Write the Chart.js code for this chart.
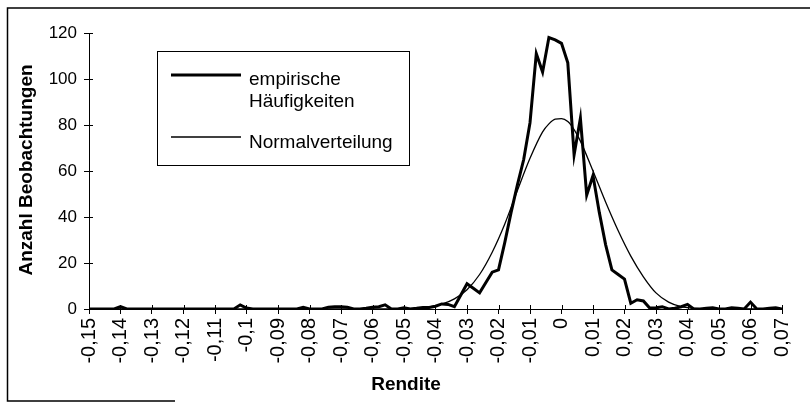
<!DOCTYPE html>
<html>
<head>
<meta charset="utf-8">
<script src="https://cdn.jsdelivr.net/npm/chart.js@4/dist/chart.umd.min.js"></script>
<style>
  html, body { margin: 0; padding: 0; background: #fff; }
  canvas { display: block; }
</style>
</head>
<body>
<canvas id="renditeChart" width="810" height="402"></canvas>
<script>
// Rendite-Klassen und empirische Häufigkeiten
const rendite = [
  -0.150, -0.142, -0.140, -0.138, -0.104, -0.102, -0.100, -0.098, -0.084, -0.082,
  -0.080, -0.076, -0.074, -0.072, -0.070, -0.068, -0.066, -0.064, -0.062, -0.060,
  -0.058, -0.056, -0.054, -0.052, -0.050, -0.048, -0.046, -0.044, -0.042, -0.040,
  -0.038, -0.036, -0.034, -0.032, -0.030, -0.028, -0.026, -0.024, -0.022, -0.020,
  -0.018, -0.016, -0.014, -0.012, -0.010, -0.008, -0.006, -0.004, -0.002, 0.000,
  0.002, 0.004, 0.006, 0.008, 0.010, 0.012, 0.014, 0.016, 0.018, 0.020,
  0.022, 0.024, 0.026, 0.028, 0.030, 0.032, 0.034, 0.036, 0.038, 0.040,
  0.042, 0.044, 0.046, 0.048, 0.050, 0.052, 0.054, 0.056, 0.058, 0.060,
  0.062, 0.064, 0.066, 0.068, 0.070
];
const empirisch = [
  0, 0, 1, 0, 0, 1.8, 0.4, 0, 0, 0.7,
  0, 0, 0.8, 1, 1, 0.8, 0, 0, 0.3, 0.8,
  1, 1.8, 0, 0, 0.5, 0, 0.3, 0.7, 0.7, 1.2,
  2.2, 2, 1, 6, 11, 9, 7, 11.5, 16, 17,
  29, 42, 54, 65, 81, 111, 103, 118, 117, 115.5,
  107, 67, 83, 49.5, 58, 42, 28, 17, 15, 13,
  2.5, 4, 3.5, 0.4, 0.5, 1, 0, 0.3, 1, 2,
  0, 0, 0.3, 0.5, 0, 0, 0.5, 0.3, 0, 3,
  0, 0, 0.3, 0.5, 0
];

// Normalverteilung
const normX = [
  -0.150, -0.054, -0.050, -0.046, -0.042, -0.038, -0.034, -0.030, -0.026, -0.022,
  -0.018, -0.014, -0.010, -0.006, -0.004, -0.002, 0.000, 0.002, 0.004, 0.006,
  0.010, 0.014, 0.018, 0.022, 0.026, 0.030, 0.034, 0.038, 0.042, 0.046,
  0.070
];
const normal = [
  0, 0.05, 0.13, 0.36, 0.9, 2.1, 4.4, 8.4, 15, 24.7,
  37, 51.5, 65.5, 77, 80.5, 82.6, 82.8, 81.5, 78, 73,
  60, 46.5, 34, 23, 14, 7, 3, 1, 0.3, 0.1,
  0
];

const yTicks = [0, 20, 40, 60, 80, 100, 120];
const seriesNames = [['empirische', 'Häufigkeiten'], ['Normalverteilung']];

const FONT = "'Liberation Sans', Arial, Helvetica, sans-serif";
Chart.defaults.font.family = FONT;
Chart.defaults.color = '#000';

const toPoints = (xs, ys) => xs.map((x, i) => ({ x: x, y: ys[i] }));

// Rahmen, Achsentitel, Legende und durchgehende Teilstriche
const decorPlugin = {
  id: 'decor',
  beforeDraw(chart) {
    const ctx = chart.ctx;
    ctx.save();
    ctx.fillStyle = '#fff';
    ctx.fillRect(0, 0, chart.width, chart.height);
    ctx.restore();
  },
  afterDraw(chart) {
    const ctx = chart.ctx;
    const xs = chart.scales.x, ys = chart.scales.y;
    ctx.save();
    ctx.strokeStyle = '#000';
    ctx.lineWidth = 1;
    ctx.beginPath();
    xs.ticks.forEach(t => {
      const px = Math.round(xs.getPixelForValue(t.value)) + 0.5;
      ctx.moveTo(px, ys.bottom - 4);
      ctx.lineTo(px, ys.bottom);
    });
    yTicks.forEach(v => {
      const py = Math.round(ys.getPixelForValue(v)) + 0.5;
      ctx.moveTo(xs.left, py);
      ctx.lineTo(xs.left + 4, py);
    });
    ctx.stroke();

    // Rahmen
    ctx.lineWidth = 1.5;
    ctx.beginPath();
    ctx.moveTo(810, 8);
    ctx.lineTo(7.5, 8);
    ctx.lineTo(7.5, 401);
    ctx.lineTo(175, 401);
    ctx.stroke();

    // Achsentitel
    ctx.fillStyle = '#000';
    ctx.font = 'bold 19px ' + FONT;
    ctx.textAlign = 'center';
    ctx.textBaseline = 'alphabetic';
    ctx.fillText('Rendite', 406, 390);
    ctx.translate(32, 170);
    ctx.rotate(-Math.PI / 2);
    ctx.fillText('Anzahl Beobachtungen', 0, 0);
    ctx.restore();

    // Legende
    ctx.save();
    ctx.strokeStyle = '#000';
    ctx.lineWidth = 1;
    ctx.strokeRect(157.5, 51.5, 252, 114);
    ctx.font = '19px ' + FONT;
    ctx.fillStyle = '#000';
    ctx.textAlign = 'left';
    const ds = chart.data.datasets;
    const rows = [{ y: 75, base: [85, 107] }, { y: 137, base: [148] }];
    rows.forEach((r, i) => {
      ctx.lineWidth = ds[i].borderWidth;
      ctx.beginPath();
      ctx.moveTo(171, r.y);
      ctx.lineTo(241, r.y);
      ctx.stroke();
      seriesNames[i].forEach((t, j) => ctx.fillText(t, 249, r.base[j]));
    });
    ctx.restore();
  }
};

new Chart(document.getElementById('renditeChart').getContext('2d'), {
  type: 'line',
  data: {
    datasets: [
      {
        label: seriesNames[0].join(' '),
        data: toPoints(rendite, empirisch),
        borderColor: '#000',
        borderWidth: 3,
        pointRadius: 0,
        tension: 0
      },
      {
        label: seriesNames[1][0],
        data: toPoints(normX, normal),
        borderColor: '#000',
        borderWidth: 1.3,
        pointRadius: 0,
        cubicInterpolationMode: 'monotone'
      }
    ]
  },
  options: {
    responsive: false,
    animation: false,
    layout: { padding: { left: 0, right: 27, top: 33, bottom: 0 } },
    plugins: { legend: { display: false }, title: { display: false }, tooltip: { enabled: false } },
    scales: {
      x: {
        type: 'linear',
        min: -0.15,
        max: 0.07,
        afterFit: s => { s.height = 93; },
        grid: { drawOnChartArea: false, color: '#000', tickLength: 5 },
        border: { color: '#000', width: 1 },
        ticks: {
          stepSize: 0.01,
          autoSkip: false,
          minRotation: 90,
          maxRotation: 90,
          padding: 4,
          font: { size: 20 },
          callback: v => Number(v.toFixed(2)).toString().replace('.', ',')
        }
      },
      y: {
        min: 0,
        max: 120,
        afterFit: s => { s.width = 89; },
        afterBuildTicks: s => { s.ticks = yTicks.map(v => ({ value: v })); },
        grid: { drawOnChartArea: false, color: '#000', tickLength: 5 },
        border: { color: '#000', width: 1 },
        ticks: { padding: 7, font: { size: 17 } }
      }
    }
  },
  plugins: [decorPlugin]
});
</script>
</body>
</html>
